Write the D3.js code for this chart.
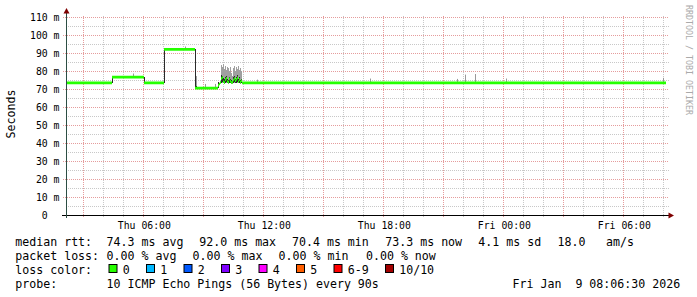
<!DOCTYPE html>
<html>
<head>
<meta charset="utf-8">
<script src="https://cdn.jsdelivr.net/npm/d3@7"></script>
<style>
  body { margin: 0; background: #fff; }
  svg text { font-family: "DejaVu Sans Mono", monospace; white-space: pre; }
</style>
</head>
<body>
<svg id="chart" width="697" height="297"></svg>
<script>
'use strict';

/* graph window: 30 hours up to the time stamp */
var rangeStart = '2026-01-08 02:06:30',
    rangeEnd   = '2026-01-09 08:06:30';

/* median rtt (ms), each value holds until the next step time */
var stepTimes = [
  '2026-01-08 02:06:30', '2026-01-08 04:25:30', '2026-01-08 04:28:30',
  '2026-01-08 06:00:30', '2026-01-08 06:03:30', '2026-01-08 07:02:30',
  '2026-01-08 07:05:30', '2026-01-08 08:35:30', '2026-01-08 08:38:30',
  '2026-01-08 08:41:30', '2026-01-08 09:44:30', '2026-01-08 09:47:30',
  '2026-01-08 09:50:30', '2026-01-08 09:53:30', '2026-01-08 09:56:30',
  '2026-01-08 09:59:30', '2026-01-08 10:02:30', '2026-01-08 10:05:30',
  '2026-01-08 10:08:30', '2026-01-08 10:11:30', '2026-01-08 10:14:30',
  '2026-01-08 10:17:30', '2026-01-08 10:20:30', '2026-01-08 10:23:30',
  '2026-01-08 10:26:30', '2026-01-08 10:29:30', '2026-01-08 10:32:30',
  '2026-01-08 10:35:30', '2026-01-08 10:38:30', '2026-01-08 10:41:30',
  '2026-01-08 10:44:30', '2026-01-08 10:47:30', '2026-01-08 10:50:30',
  '2026-01-08 10:53:30', '2026-01-08 10:56:30', '2026-01-09 08:06:30'
];
var medianMs = [
  73.4, 76.6, 76.6, 73.4, 73.4, 92.0, 92.0, 70.5, 70.5, 70.5, 72.0, 72.8,
  73.6, 75.8, 76.4, 74.0, 73.6, 75.2, 76.0, 74.2, 73.8, 75.6, 74.4, 73.6,
  73.8, 75.0, 75.8, 74.6, 75.4, 76.2, 74.0, 75.2, 73.8, 74.6, 73.4, 73.3
];
/* smoke: spread of the 10 pings per step (ms) */
var pingMin = [
  73.1, 73.4, 76.2, 73.4, 73.1, 73.4, 91.7, 70.5, 70.3, 70.2, 70.5, 72.3,
  73.2, 73.2, 73.4, 73.1, 73.0, 73.2, 73.3, 73.1, 73.0, 73.2, 73.1, 73.0,
  73.0, 73.2, 73.3, 73.1, 73.2, 73.4, 73.1, 73.2, 73.0, 73.1, 73.1, 73.0
];
var pingLow = [
  73.3, 73.4, 76.4, 73.4, 73.3, 73.4, 91.9, 70.5, 70.5, 70.4, 70.5, 72.6,
  73.4, 73.6, 73.8, 73.4, 73.3, 73.6, 73.7, 73.4, 73.3, 73.6, 73.4, 73.3,
  73.3, 73.5, 73.7, 73.4, 73.6, 73.8, 73.4, 73.5, 73.3, 73.4, 73.3, 73.2
];
var pingHigh = [
  73.6, 76.6, 76.8, 76.6, 73.6, 92.0, 92.2, 92.0, 71.5, 70.7, 74.0, 73.2,
  73.9, 77.6, 77.4, 76.2, 75.4, 76.8, 77.2, 75.8, 75.2, 76.6, 75.8, 74.8,
  74.6, 76.4, 77.4, 75.8, 76.8, 77.6, 75.4, 76.4, 75.0, 75.6, 73.6, 73.6
];
var pingMax = [
  73.8, 76.8, 77.1, 76.6, 73.8, 92.2, 92.5, 92.0, 77.5, 71.0, 74.0, 73.6,
  74.2, 83.5, 82.0, 84.0, 81.0, 83.0, 80.5, 82.5, 81.5, 80.0, 82.0, 79.0,
  77.0, 81.5, 83.0, 80.0, 82.5, 81.0, 83.0, 80.5, 81.5, 80.0, 73.8, 73.8
];

/* single slow pings above the median */
var spikeTimes = [
  '2026-01-08 05:28:30', '2026-01-08 08:03:30', '2026-01-08 09:03:30',
  '2026-01-08 09:33:30', '2026-01-08 11:39:30', '2026-01-08 17:18:30',
  '2026-01-08 21:39:30', '2026-01-08 22:03:30', '2026-01-08 22:33:30',
  '2026-01-09 00:06:30', '2026-01-09 07:57:30'
];
var spikeMs = [78.6, 93.6, 72.8, 72.8, 75.2, 75.8, 75.6, 78.0, 78.3, 75.8, 76.2];

var yTicks = [0, 10, 20, 30, 40, 50, 60, 70, 80, 90, 100, 110];

var rttStats  = ['74.3 ms avg', '92.0 ms max', '70.4 ms min', '73.3 ms now', '4.1 ms sd', '18.0', 'am/s'];
var lossStats = ['0.00 % avg', '0.00 % max', '0.00 % min', '0.00 % now'];
var lossLabels = ['0', '1', '2', '3', '4', '5', '6-9', '10/10'];
var lossColors = ['#26ff00', '#00b8ff', '#0059ff', '#7e00ff', '#ff00ff', '#ff5e00', '#ff0000', '#a10000'];
var probeText = '10 ICMP Echo Pings (56 Bytes) every 90s';
var stampText = 'Fri Jan  9 08:06:30 2026';


var svg   = d3.select('#chart');
var parse = d3.timeParse('%Y-%m-%d %H:%M:%S');

var x = d3.scaleTime()
  .domain([parse(rangeStart), parse(rangeEnd)])
  .range([66, 666]);
var y = d3.scaleLinear()
  .domain([0, 110])
  .range([215, 17]);

var steps = stepTimes.map(function(t, i) {
  return { t: parse(t), med: medianMs[i], min: pingMin[i], low: pingLow[i],
           high: pingHigh[i], max: pingMax[i] };
});

// Grid (dotted, minor grey / major red)
var grid  = svg.append('g')
  .attr('shape-rendering', 'crispEdges');
var hours = d3.timeHour.every(1).range(x.domain()[0], x.domain()[1]);
var px = function(t) { return Math.floor(x(t)) + 0.5; };
var py = function(v) { return Math.round(y(v)) + 0.5; };

function dotted(sel, color) {
  sel.attr('stroke', color)
    .attr('stroke-width', 1)
    .attr('stroke-dasharray', '1,1');
}

grid.selectAll('line.hmin')
  .data(y.ticks(22).filter(function(v) { return v % 10 !== 0; }))
  .enter().append('line')
    .attr('x1', 66).attr('x2', 669)
    .attr('y1', py).attr('y2', py)
    .call(dotted, '#c8c8c8');
grid.selectAll('line.vmin')
  .data(hours.filter(function(h) { return h.getHours() % 3 !== 0; }))
  .enter().append('line')
    .attr('x1', px).attr('x2', px)
    .attr('y1', 16).attr('y2', 217)
    .call(dotted, '#c8c8c8');
grid.selectAll('line.hmaj')
  .data(yTicks.filter(function(v) { return v > 0; }))
  .enter().append('line')
    .attr('x1', 63).attr('x2', 669)
    .attr('y1', py).attr('y2', py)
    .call(dotted, '#e59c9c');
grid.selectAll('line.vmaj')
  .data(hours.filter(function(h) { return h.getHours() % 3 === 0; }))
  .enter().append('line')
    .attr('x1', px).attr('x2', px)
    .attr('y1', 16).attr('y2', 218)
    .call(dotted, '#e59c9c');

// Smoke
var band = function(lo, hi) {
  return d3.area()
    .curve(d3.curveStepAfter)
    .x(function(d) { return Math.floor(x(d.t)); })
    .y0(function(d) { return y(d[lo]); })
    .y1(function(d) { return y(d[hi]); });
};
svg.append('path').datum(steps)
  .attr('d', band('min', 'max')).attr('fill', '#a0a0a0')
  .attr('shape-rendering', 'crispEdges');
svg.append('path').datum(steps)
  .attr('d', band('low', 'high')).attr('fill', '#2a2a2a')
  .attr('shape-rendering', 'crispEdges');

var bisect = d3.bisector(function(d) { return d.t; }).right;
svg.selectAll('line.spike')
  .data(spikeTimes.map(function(t, i) { return { t: parse(t), v: spikeMs[i] }; }))
  .enter().append('line')
    .attr('x1', function(d) { return px(d.t); })
    .attr('x2', function(d) { return px(d.t); })
    .attr('y1', function(d) { return y(steps[bisect(steps, d.t) - 1].med); })
    .attr('y2', function(d) { return y(d.v); })
    .attr('stroke', '#999');

// Median, drawn as a thin band like smokeping does
svg.append('path').datum(steps)
  .attr('d', d3.area()
    .curve(d3.curveStepAfter)
    .x(function(d) { return Math.floor(x(d.t)); })
    .y0(function(d) { return y(d.med) + 1.3; })
    .y1(function(d) { return y(d.med) - 1.3; }))
  .attr('fill', lossColors[0]);

// Axes
var xAxis = svg.append('g')
  .attr('transform', 'translate(0,228.8)')
  .call(d3.axisBottom(x)
    .ticks(d3.timeHour.every(6))
    .tickFormat(d3.timeFormat('%a %H:%M'))
    .tickSize(0));
xAxis.select('.domain').remove();
xAxis.selectAll('text')
  .attr('y', 0).attr('dy', null)
  .attr('fill', '#000')
  .style('font-family', '"DejaVu Sans Mono", monospace')
  .style('font-size', '9.8px');

var yAxis = svg.append('g')
  .attr('transform', 'translate(59.5,0)')
  .call(d3.axisLeft(y)
    .tickValues(yTicks)
    .tickFormat(function(d) { return d === 0 ? '0  ' : d + ' m'; })
    .tickSize(0)
    .tickPadding(0));
yAxis.select('.domain').remove();
yAxis.selectAll('text')
  .attr('x', 0).attr('dy', '0.36em')
  .attr('fill', '#000')
  .style('font-family', '"DejaVu Sans Mono", monospace')
  .style('font-size', '9.8px');

svg.append('line')
  .attr('x1', 62).attr('x2', 670).attr('y1', 215.5).attr('y2', 215.5)
  .attr('stroke', '#000');
svg.append('line')
  .attr('x1', 66.5).attr('x2', 66.5).attr('y1', 218).attr('y2', 12)
  .attr('stroke', '#2c4d43');
svg.append('path')
  .attr('d', 'M63.5,13.5 L69.5,13.5 L66.5,8 Z').attr('fill', '#7f0000');
svg.append('path')
  .attr('d', 'M668.5,212.5 L668.5,218.5 L674,215.5 Z').attr('fill', '#7f0000');

// Titles
svg.append('text')
  .attr('transform', 'translate(15,114) rotate(-90)')
  .attr('text-anchor', 'middle')
  .style('font-size', '11.6px')
  .text('Seconds');
svg.append('text')
  .attr('transform', 'translate(685.5,5) rotate(90)')
  .attr('fill', '#aaa')
  .style('font-size', '8.3px')
  .text('RRDTOOL / TOBI OETIKER');

// Legend
var legend = svg.append('g').style('font-size', '11.6px').attr('fill', '#000');
var put = function(xp, yp, s) {
  legend.append('text').attr('x', xp).attr('y', yp).text(s);
};
var rttX  = [106.6, 199.3, 292, 385.3, 478.3, 557.6, 606];
var lossX = [106.6, 192.6, 278.6, 366];

put(15.3, 245.5, 'median rtt:');
rttStats.forEach(function(s, i) { put(rttX[i], 245.5, s); });
put(15.3, 259.5, 'packet loss:');
lossStats.forEach(function(s, i) { put(lossX[i], 259.5, s); });
put(15.3, 273.5, 'loss color:');
var bx = 108.5;
lossLabels.forEach(function(s, i) {
  legend.append('rect')
    .attr('x', bx + 0.5).attr('y', 264.5).attr('width', 8).attr('height', 8)
    .attr('fill', lossColors[i]).attr('stroke', '#000');
  put(bx + 14.2, 273.5, s);
  bx += 14.7 + s.length * 7 + 15.8;
});
put(15.3, 287.5, 'probe:');
put(106.6, 287.5, probeText);
put(512.6, 287.5, stampText);
</script>
</body>
</html>
